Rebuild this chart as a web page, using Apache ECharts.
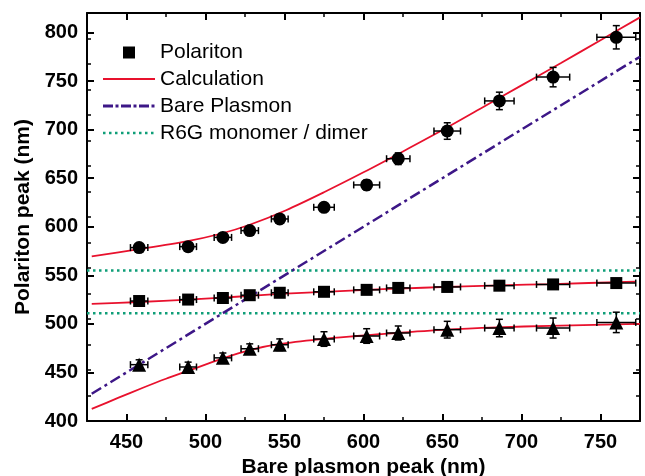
<!DOCTYPE html>
<html>
<head>
<meta charset="utf-8">
<script src="https://cdn.jsdelivr.net/npm/echarts@6/dist/echarts.min.js"></script>
<style>html,body{margin:0;padding:0;background:#fff}#c{width:645px;height:476px}</style>
</head>
<body>
<div id="c"></div>
<script>
// ---- data ----
const plasmonPeak = [458, 489, 511, 528, 547, 575, 602, 622, 653, 686, 720, 760];
const plasmonErr  = [5.5, 5.3, 5.5, 5.5, 5.3, 6.5, 8.2, 7.4, 8.4, 9.3, 10.5, 12.3];
const upperPeak   = [578.5, 579.5, 589, 596, 608, 620, 643, 670, 698.5, 729.5, 754, 795];
const upperErr    = [3, 3, 3, 3, 4, 4, 5, 6, 8.5, 9, 10, 12];
const middlePeak  = [523.5, 525, 526.6, 529.5, 532, 533, 535, 537, 538, 539.3, 540.6, 542];
const middleErr   = [3, 3, 3, 3, 3, 3, 3, 3, 3, 3, 3, 3];
const lowerPeak   = [458, 455.6, 465, 474.4, 478.5, 484.4, 487.5, 490.6, 494, 495.7, 495.7, 501.5];
const lowerErr    = [5, 5, 5, 5, 6, 7.5, 7.5, 7.2, 8.6, 9, 10.3, 10.5];

const calcUpperX = [428, 456, 488, 509, 528, 551, 575, 600, 625, 650, 675, 700, 725, 750, 775];
const calcUpperY = [569.5, 576.5, 585, 592.5, 602, 617, 635.5, 656, 677.5, 699.5, 722.5, 745.5, 768.5, 792, 815.5];
const calcMidX   = [428, 458, 489, 511, 528, 547, 575, 602, 622, 653, 686, 720, 772];
const calcMidY   = [520.5, 522.5, 525, 527, 528.8, 530.8, 533, 535, 536.3, 538, 539.6, 541, 543.5];
const calcLowX   = [428, 445, 460, 475, 488, 511, 528, 547, 574, 596, 610, 652, 685, 718, 760, 775];
const calcLowY   = [412.4, 424, 434, 443.5, 451, 464.5, 473, 479.3, 484.4, 487.5, 489.3, 494, 496.4, 498, 499.5, 500];

const barePlasmonX = [428, 775];
const barePlasmonY = [428, 775];
const excitonLevels = [555, 511];
const excitonX = [425, 775];

const xTicks = [450, 500, 550, 600, 650, 700, 750];
const yTicks = [400, 450, 500, 550, 600, 650, 700, 750, 800];

// ---- build ----
const zip = (a, b) => a.map((v, i) => [v, b[i]]);
const FONT = 'Liberation Sans, Arial, sans-serif';
const RED = '#e8112d', PURPLE = '#3d1787', GREEN = '#0f9e78';

function errItem(params, api) {
  const x = api.value(0), y = api.value(1), xe = api.value(2), ye = api.value(3);
  const c = api.coord([x, y]);
  const l = api.coord([x - xe, y])[0], r = api.coord([x + xe, y])[0];
  const t = api.coord([x, y + ye])[1], b = api.coord([x, y - ye])[1];
  const cap = 3.5;
  const st = { stroke: '#000', lineWidth: 1.5, fill: null };
  const ln = (x1, y1, x2, y2) => ({ type: 'line', shape: { x1, y1, x2, y2 }, style: st });
  return { type: 'group', children: [
    ln(l, c[1], r, c[1]), ln(l, c[1] - cap, l, c[1] + cap), ln(r, c[1] - cap, r, c[1] + cap),
    ln(c[0], t, c[0], b), ln(c[0] - cap, t, c[0] + cap, t), ln(c[0] - cap, b, c[0] + cap, b)
  ]};
}
const errData = (ys, ye) => plasmonPeak.map((x, i) => [x, ys[i], plasmonErr[i], ye[i]]);

const baseAxis = { splitLine: { show: false } };
const axLine = { show: true, onZero: false, lineStyle: { color: '#000', width: 2 } };
const majTick = (vals) => ({ show: true, inside: true, length: 7, customValues: vals, lineStyle: { color: '#000', width: 2 } });
const minTick = { show: true, inside: true, length: 4, lineStyle: { color: '#000', width: 1.5 } };

const xMain = { ...baseAxis, type: 'value', min: 425, max: 775, gridIndex: 0 };
const yMain = { ...baseAxis, type: 'value', min: 400, max: 820, gridIndex: 0 };

const dotsIcon = (() => { let p = 'path://M0,0 M52,14'; for (let i = 0; i < 9; i++) p += ` M${i*6},5.75 h2.5 v2.5 h-2.5 z`; return p; })();

const option = {
  animation: false,
  backgroundColor: '#fff',
  grid: { left: 87, right: 5, top: 13, bottom: 55, containLabel: false, outerBoundsMode: 'none' },
  legend: {
    orient: 'vertical', left: 103, top: 41, padding: 0, itemWidth: 52, itemHeight: 14, itemGap: 5,
    selectedMode: false, itemStyle: { borderWidth: 0 },
    textStyle: { fontFamily: FONT, fontSize: 21, lineHeight: 22, color: '#000' },
    data: [
      { name: 'Polariton', icon: 'path://M0,0 M52,14 M20,1.5 h12 v12 h-12 z' },
      { name: 'Calculation', icon: 'path://M0,0 M52,14 M0,6 h52 v2 h-52 z' },
      { name: 'Bare Plasmon', icon: 'path://M0,0 M52,14 M0,5.5 h10 v3 h-10 z M12.5,5.5 h3 v3 h-3 z M18,5.5 h10 v3 h-10 z M30.5,5.5 h3 v3 h-3 z M36,5.5 h10 v3 h-10 z M48.5,5.5 h3 v3 h-3 z' },
      { name: 'R6G monomer / dimer', icon: dotsIcon }
    ]
  },
  xAxis: [
    { ...xMain, position: 'bottom', axisLine: axLine, axisTick: majTick(xTicks),
      axisLabel: { show: true, customValues: xTicks, margin: 11, fontFamily: FONT, fontSize: 20, fontWeight: 'bold', color: '#000' },
      name: 'Bare plasmon peak (nm)', nameLocation: 'middle', nameGap: 36,
      nameTextStyle: { fontFamily: FONT, fontSize: 21, fontWeight: 'bold', color: '#000' } },
    { ...xMain, position: 'bottom', interval: 25, axisLine: { show: false }, axisTick: minTick, axisLabel: { show: false } },
    { ...xMain, position: 'top', axisLine: axLine, axisTick: majTick(xTicks), axisLabel: { show: false } },
    { ...xMain, position: 'top', interval: 25, axisLine: { show: false }, axisTick: minTick, axisLabel: { show: false } }
  ],
  yAxis: [
    { ...yMain, position: 'left', axisLine: axLine, axisTick: majTick(yTicks),
      axisLabel: { show: true, customValues: yTicks, margin: 9, fontFamily: FONT, fontSize: 20, fontWeight: 'bold', color: '#000' },
      name: 'Polariton peak (nm)', nameLocation: 'middle', nameGap: 45,
      nameTextStyle: { fontFamily: FONT, fontSize: 21, fontWeight: 'bold', color: '#000' } },
    { ...yMain, position: 'left', min: 400, max: 800, interval: 25, axisLine: { show: false }, axisTick: minTick, axisLabel: { show: false } },
    { ...yMain, position: 'right', axisLine: axLine, axisTick: majTick(yTicks), axisLabel: { show: false } },
    { ...yMain, position: 'right', min: 400, max: 800, interval: 25, axisLine: { show: false }, axisTick: minTick, axisLabel: { show: false } }
  ],
  series: [
    ...excitonLevels.map(v => ({
      name: 'R6G monomer / dimer', type: 'line', symbol: 'none', z: 1,
      data: excitonX.map(x => [x, v]), color: GREEN,
      lineStyle: { color: GREEN, width: 2.5, type: [2.5, 3.5] }
    })),
    { name: 'Bare Plasmon', type: 'line', symbol: 'none', z: 2, color: PURPLE,
      data: zip(barePlasmonX, barePlasmonY), lineStyle: { color: PURPLE, width: 2.5, type: [11, 4, 3, 4] } },
    ...[[calcUpperX, calcUpperY], [calcMidX, calcMidY], [calcLowX, calcLowY]].map(([xs, ys]) => ({
      name: 'Calculation', type: 'line', symbol: 'none', z: 3, color: RED, smooth: 0.3,
      data: zip(xs, ys), lineStyle: { color: RED, width: 1.8 }
    })),
    ...[[upperPeak, upperErr], [middlePeak, middleErr], [lowerPeak, lowerErr]].map(([ys, ye]) => ({
      type: 'custom', z: 4, renderItem: errItem, data: errData(ys, ye), encode: { x: 0, y: 1 }, silent: true
    })),
    { name: 'Polariton', type: 'scatter', symbol: 'circle', symbolSize: 13, z: 5, color: '#000', itemStyle: { opacity: 1 }, data: zip(plasmonPeak, upperPeak) },
    { name: 'Polariton', type: 'scatter', symbol: 'rect', symbolSize: 12, z: 5, color: '#000', itemStyle: { opacity: 1 }, data: zip(plasmonPeak, middlePeak) },
    { name: 'Polariton', type: 'scatter', symbol: 'triangle', symbolSize: 14, z: 5, color: '#000', itemStyle: { opacity: 1 }, data: zip(plasmonPeak, lowerPeak) }
  ]
};

const chart = echarts.init(document.getElementById('c'), null, { renderer: 'canvas' });
chart.setOption(option);
</script>
</body>
</html>
